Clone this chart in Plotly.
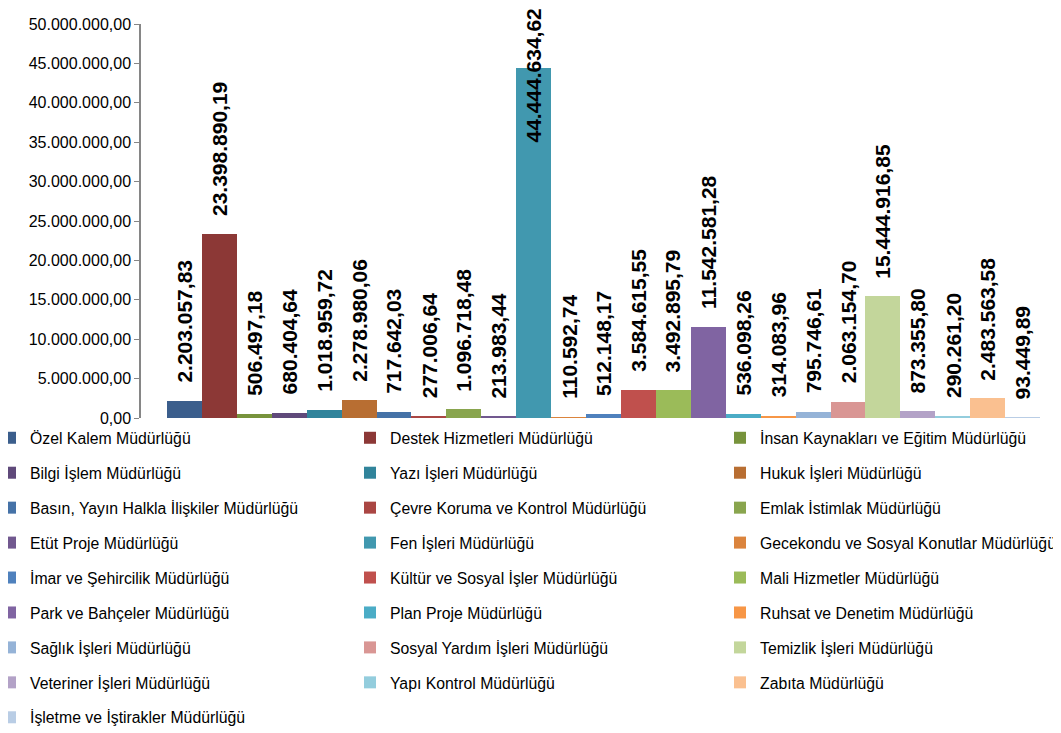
import plotly.graph_objects as go

categories = [
    "Özel Kalem Müdürlüğü", "Destek Hizmetleri Müdürlüğü", "İnsan Kaynakları ve Eğitim Müdürlüğü",
    "Bilgi İşlem Müdürlüğü", "Yazı İşleri Müdürlüğü", "Hukuk İşleri Müdürlüğü",
    "Basın, Yayın Halkla İlişkiler Müdürlüğü", "Çevre Koruma ve Kontrol Müdürlüğü", "Emlak İstimlak Müdürlüğü",
    "Etüt Proje Müdürlüğü", "Fen İşleri Müdürlüğü", "Gecekondu ve Sosyal Konutlar Müdürlüğü",
    "İmar ve Şehircilik Müdürlüğü", "Kültür ve Sosyal İşler Müdürlüğü", "Mali Hizmetler Müdürlüğü",
    "Park ve Bahçeler Müdürlüğü", "Plan Proje Müdürlüğü", "Ruhsat ve Denetim Müdürlüğü",
    "Sağlık İşleri Müdürlüğü", "Sosyal Yardım İşleri Müdürlüğü", "Temizlik İşleri Müdürlüğü",
    "Veteriner İşleri Müdürlüğü", "Yapı Kontrol Müdürlüğü", "Zabıta Müdürlüğü",
    "İşletme ve İştirakler Müdürlüğü",
]

values = [
    2203057.83, 23398890.19, 506497.18,
    680404.64, 1018959.72, 2278980.06,
    717642.03, 277006.64, 1096718.48,
    213983.44, 44444634.62, 110592.74,
    512148.17, 3584615.55, 3492895.79,
    11542581.28, 536098.26, 314083.96,
    795746.61, 2063154.70, 15444916.85,
    873355.80, 290261.20, 2483563.58,
    93449.89,
]

colors = [
    "#3B5E8C", "#8C3836", "#77933C", "#5F497A", "#31849B", "#B86E32",
    "#4572A7", "#AA4643", "#89A54E", "#71588F", "#4198AF", "#DB843D",
    "#4F81BD", "#C0504D", "#9BBB59", "#8064A2", "#4BACC6", "#F79646",
    "#95B3D7", "#D99694", "#C3D69B", "#B3A2C7", "#93CDDD", "#FAC090",
    "#B9CDE5",
]

y_ticks = [0, 5e6, 10e6, 15e6, 20e6, 25e6, 30e6, 35e6, 40e6, 45e6, 50e6]


def tr_fmt(v):
    s = f"{v:,.2f}"
    return s.replace(",", "X").replace(".", ",").replace("X", ".")


FONT = "Liberation Sans, Arial, sans-serif"
fig = go.Figure()
legend_names = ["legend", "legend2", "legend3"]

for i, (name, val, col) in enumerate(zip(categories, values, colors)):
    fig.add_trace(go.Bar(
        x=[i], y=[val], width=1.0, name=name,
        marker=dict(color=col, line=dict(width=0)),
        legend=legend_names[i % 3], legendgroup=f"g{i}",
        showlegend=True,
    ))
    tall = val > 40e6
    fig.add_annotation(
        x=i, y=val, xref="x", yref="y",
        text=f"<b>{tr_fmt(val)}</b>", textangle=-90, showarrow=False,
        yanchor="middle" if tall else "bottom",
        yshift=-8 if tall else 16,
        font=dict(family=FONT, size=21, color="#000000"),
    )

W, H = 1053, 725
PW = W - 133 - 16  # plot width in px
leg_common = dict(
    orientation="v", xref="paper", yref="container",
    xanchor="left", yanchor="top", tracegroupgap=11.4,
    font=dict(family=FONT, size=15.8, color="#000000"),
    bgcolor="rgba(0,0,0,0)", itemwidth=30,
)
top = 1 - 413 / H


def px_to_paper(px):
    return (px - 133) / PW


fig.update_layout(
    width=W, height=H,
    margin=dict(l=133, r=16, t=16, b=315, autoexpand=False),
    plot_bgcolor="white", paper_bgcolor="white",
    separators=",.",
    barmode="overlay",
    bargap=0,
    xaxis=dict(range=[-1.245, 24.64], showticklabels=False, showgrid=False,
               zeroline=False, showline=False, ticks=""),
    yaxis=dict(range=[0, 50e6], tickvals=y_ticks, tickformat=",.2f",
               showgrid=False, zeroline=False, showline=True, linecolor="#868686",
               linewidth=1.5, ticks="outside", ticklen=5, tickcolor="#868686",
               tickfont=dict(family=FONT, size=16, color="#000000")),
    legend=dict(x=px_to_paper(-18), y=top, **leg_common),
    legend2=dict(x=px_to_paper(342), y=top, **leg_common),
    legend3=dict(x=px_to_paper(712), y=top, **leg_common),
)

fig.write_html("out.html")
